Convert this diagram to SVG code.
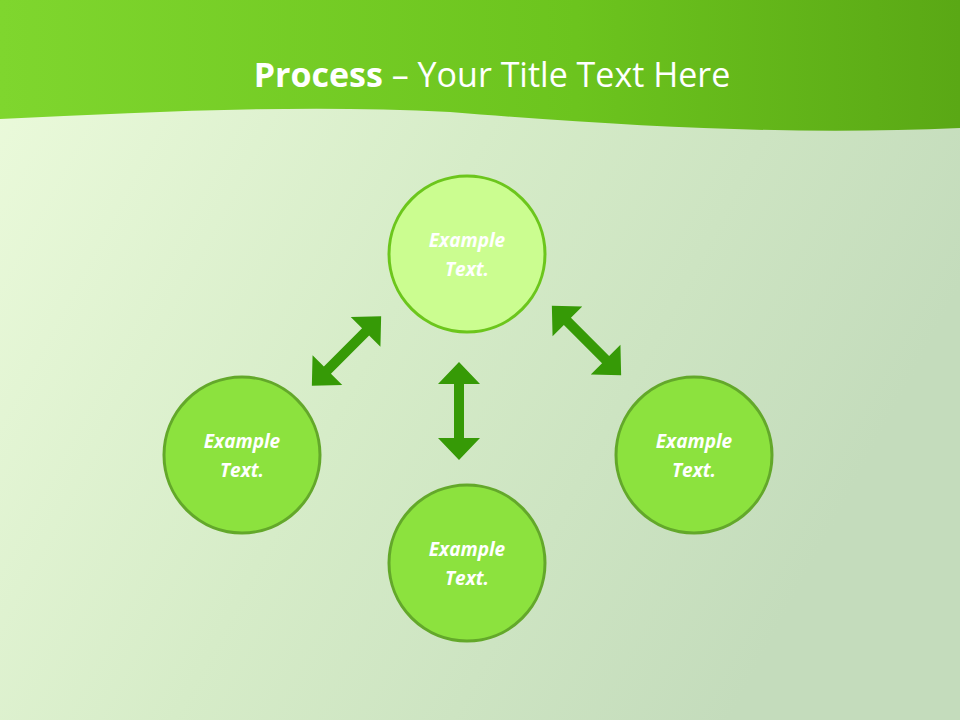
<svg xmlns="http://www.w3.org/2000/svg" width="960" height="720" viewBox="0 0 960 720">
<defs>
<linearGradient id="bg" x1="0" y1="0" x2="1" y2="0.4">
<stop offset="0" stop-color="#ecfbdc"/><stop offset="0.5" stop-color="#d6ecc8"/><stop offset="1" stop-color="#c4dcbc"/>
</linearGradient>
<linearGradient id="hd" x1="0" y1="0" x2="1" y2="0">
<stop offset="0" stop-color="#7fd62e"/><stop offset="0.6" stop-color="#6cc41e"/><stop offset="1" stop-color="#5aa815"/>
</linearGradient>
<path id="dbl" d="M0,-49 L21,-27 L5,-27 L5,27 L21,27 L0,49 L-21,27 L-5,27 L-5,-27 L-21,-27 Z"/>
<style>
.c{fill:#8ce23e;stroke:#63a82a;stroke-width:3}
.ct{fill:#cbfd90;stroke:#6cc61c;stroke-width:3}
.t{font-family:"Open Sans","Liberation Sans",sans-serif;font-size:19px;font-weight:bold;font-style:italic;fill:#fff;text-anchor:middle}
.a{fill:#369a06}
</style>
</defs>
<rect width="960" height="720" fill="url(#bg)"/>
<path d="M0,0 H960 V128 C800,135 650,128 450,112 C300,104 150,112 0,119 Z" fill="url(#hd)"/>
<text x="492" y="87" font-family="'Open Sans','Liberation Sans',sans-serif" font-size="34" fill="#fff" text-anchor="middle"><tspan font-weight="bold">Process</tspan> – Your Title Text Here</text>
<g id="connectors">
<use href="#dbl" class="a" transform="translate(459,411)"/>
<use href="#dbl" class="a" transform="translate(346.5,351) rotate(45)"/>
<use href="#dbl" class="a" transform="translate(586.5,340.5) rotate(-45)"/>
</g>
<g id="n1"><circle class="ct" cx="467" cy="254" r="78"/><text class="t" x="467" y="247">Example</text><text class="t" x="467" y="276">Text.</text></g>
<g id="n2"><circle class="c" cx="242" cy="455" r="78"/><text class="t" x="242" y="448">Example</text><text class="t" x="242" y="477">Text.</text></g>
<g id="n3"><circle class="c" cx="467" cy="563" r="78"/><text class="t" x="467" y="556">Example</text><text class="t" x="467" y="585">Text.</text></g>
<g id="n4"><circle class="c" cx="694" cy="455" r="78"/><text class="t" x="694" y="448">Example</text><text class="t" x="694" y="477">Text.</text></g>
</svg>
